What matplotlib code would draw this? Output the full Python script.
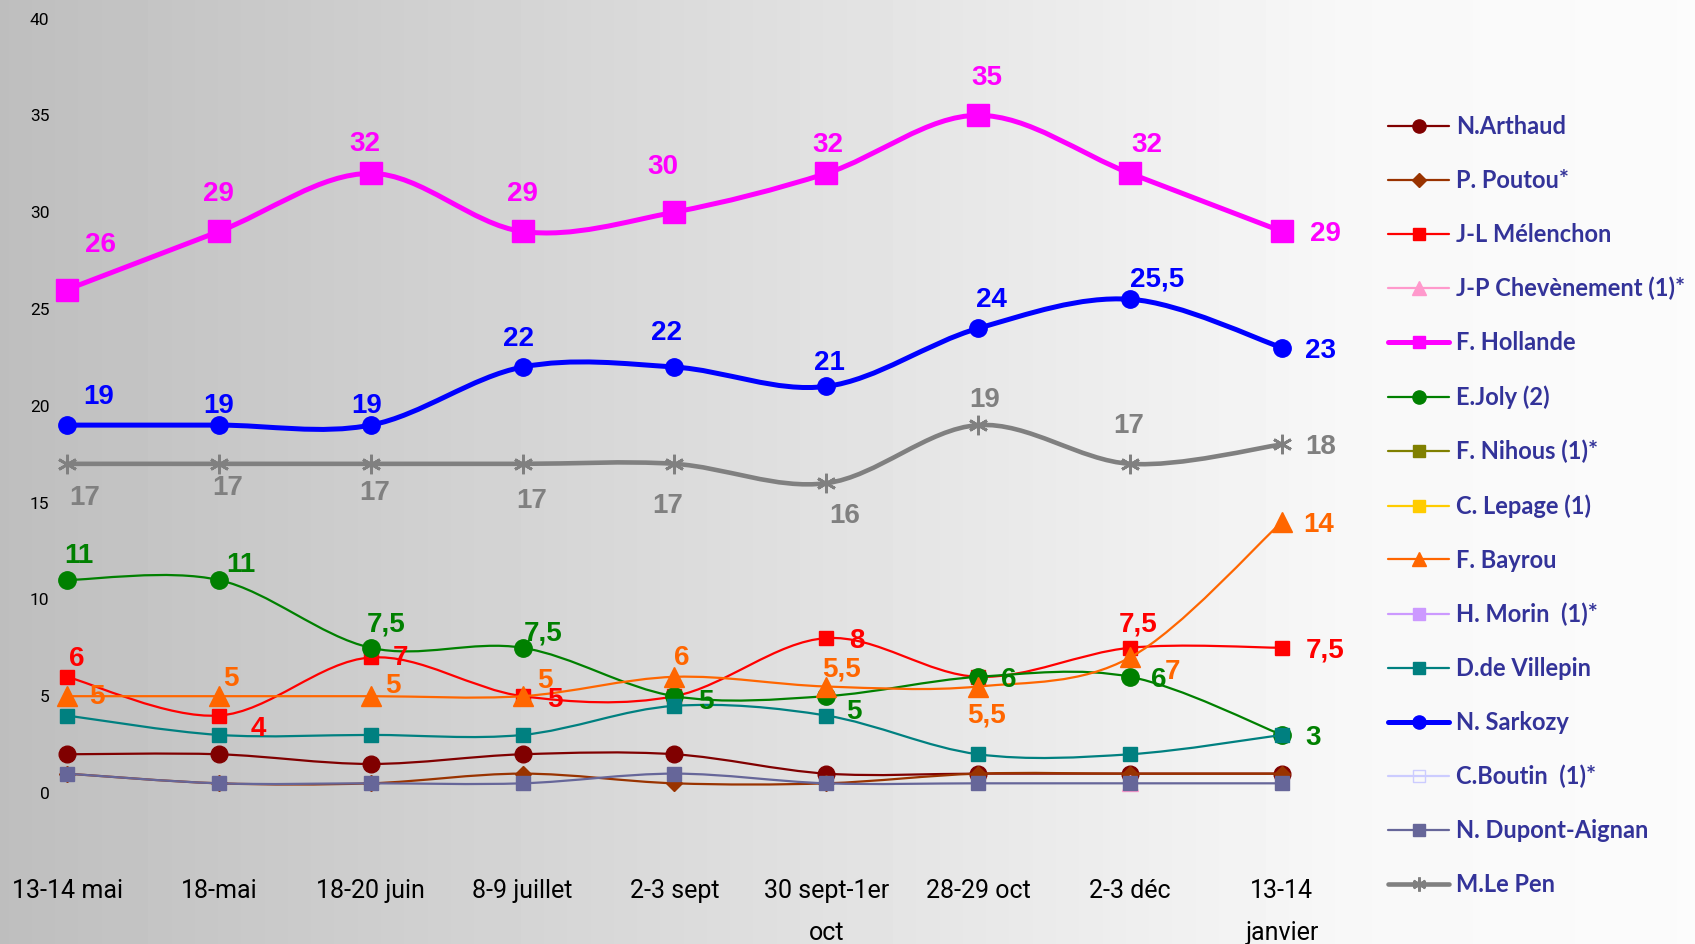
import numpy as np
import matplotlib
matplotlib.use("Agg")
import matplotlib.pyplot as plt
from matplotlib.path import Path
from matplotlib.patches import PathPatch
from matplotlib.lines import Line2D

# ---------------- data ----------------
categories = ['13-14 mai', '18-mai', '18-20 juin', '8-9 juillet', '2-3 sept',
              '30 sept-1er\noct', '28-29 oct', '2-3 déc', '13-14\njanvier']
y_ticks = [0, 5, 10, 15, 20, 25, 30, 35, 40]
nan = np.nan

arthaud = [2, 2, 1.5, 2, 2, 1, 1, 1, 1]
poutou = [1, 0.5, 0.5, 1, 0.5, 0.5, 1, 1, 1]
melenchon = [6, 4, 7, 5, 5, 8, 6, 7.5, 7.5]
chevenement = [nan, nan, nan, nan, nan, nan, nan, 0.5, nan]
hollande = [26, 29, 32, 29, 30, 32, 35, 32, 29]
joly = [11, 11, 7.5, 7.5, 5, 5, 6, 6, 3]
nihous = [nan] * 9
lepage = [nan] * 9
bayrou = [5, 5, 5, 5, 6, 5.5, 5.5, 7, 14]
morin = [nan] * 9
villepin = [4, 3, 3, 3, 4.5, 4, 2, 2, 3]
sarkozy = [19, 19, 19, 22, 22, 21, 24, 25.5, 23]
boutin = [nan] * 9
dupont = [1, 0.5, 0.5, 0.5, 1, 0.5, 0.5, 0.5, 0.5]
lepen = [17, 17, 17, 17, 17, 16, 19, 17, 18]

names = ['N.Arthaud', 'P. Poutou*', 'J-L Mélenchon', 'J-P Chevènement (1)*',
         'F. Hollande', 'E.Joly (2)', 'F. Nihous (1)*', 'C. Lepage (1)',
         'F. Bayrou', 'H. Morin  (1)*', 'D.de Villepin', 'N. Sarkozy',
         'C.Boutin  (1)*', 'N. Dupont-Aignan', 'M.Le Pen']
values = [arthaud, poutou, melenchon, chevenement, hollande, joly, nihous, lepage,
          bayrou, morin, villepin, sarkozy, boutin, dupont, lepen]

# ---------------- styles ----------------
# (color, linewidth, marker, markersize, legend markersize, facecolor)
styles = {
    'N.Arthaud': ('#800000', 1.6, 'o', 12, 9.5, None),
    'P. Poutou*': ('#993300', 1.6, 'D', 8, 7, None),
    'J-L Mélenchon': ('#FF0000', 1.6, 's', 9.5, 9, None),
    'J-P Chevènement (1)*': ('#FF99CC', 1.6, '^', 11, 10, None),
    'F. Hollande': ('#FF00FF', 3.6, 's', 16, 9, None),
    'E.Joly (2)': ('#008000', 1.6, 'o', 12.5, 9.5, None),
    'F. Nihous (1)*': ('#808000', 1.6, 's', 9, 9, None),
    'C. Lepage (1)': ('#FFCC00', 1.6, 's', 9, 9, None),
    'F. Bayrou': ('#FF6600', 1.6, '^', 14, 10, None),
    'H. Morin  (1)*': ('#CC99FF', 1.6, 's', 9, 9, None),
    'D.de Villepin': ('#008080', 1.6, 's', 9.5, 9, None),
    'N. Sarkozy': ('#0000FF', 3.6, 'o', 12.5, 9.5, None),
    'C.Boutin  (1)*': ('#CCCCFF', 1.6, 's', 9, 8, 'none'),
    'N. Dupont-Aignan': ('#666699', 1.6, 's', 10, 9, None),
    'M.Le Pen': ('#808080', 3.3, (6, 2, 0), 14, 10, None),
}

# data-label offsets in pixels (dx right, dy down); None = no label
label_offsets = {
    'F. Hollande': [(34, -48), (0, -40), (-6, -32), (0, -40), (-12, -48), (1, -31), (9, -40), (17, -31), (43, 0)],
    'N. Sarkozy': [(32, -31), (0, -22), (-4, -22), (-4, -31), (-8, -37), (3, -26), (13, -31), (27, -23), (39, 0)],
    'M.Le Pen': [(18, 31), (9, 21), (4, 26), (9, 34), (-7, 39), (18, 30), (6, -28), (-1, -41), (39, 0)],
    'E.Joly (2)': [(12, -27), (22, -18), (15, -26), (21, -17), (31, 3), (28, 13), (31, 0), (29, 0), (31, 0)],
    'J-L Mélenchon': [(10, -21), (39, 10), (30, -2), (32, 1), None, (31, 0), None, (8, -26), (43, 0)],
    'F. Bayrou': [(30, -2), (12, -20), (22, -13), (22, -18), (7, -22), (15, -20), (8, 26), (42, 12), (37, 0)],
}


def smooth_path(xs, ys):
    pts = np.column_stack([xs, ys]).astype(float)
    n = len(pts)
    verts = [pts[0]]
    codes = [Path.MOVETO]
    for i in range(n - 1):
        p0 = pts[max(i - 1, 0)]
        p1 = pts[i]
        p2 = pts[i + 1]
        p3 = pts[min(i + 2, n - 1)]
        c1 = p1 + (p2 - p0) / 6.0
        c2 = p2 - (p3 - p1) / 6.0
        verts += [c1, c2, p2]
        codes += [Path.CURVE4] * 3
    return Path(verts, codes)


W, H = 1695, 944
fig = plt.figure(figsize=(W / 100, H / 100), dpi=100)

# background gradient
bg = fig.add_axes([0, 0, 1, 1], zorder=-10)
xs_bg = np.linspace(0, 1, 400)
grad = np.interp(xs_bg, [0, 0.8, 1.0], [0.745, 0.972, 0.985])
bg.imshow(np.tile(grad, (2, 1)), aspect='auto', cmap='gray', vmin=0, vmax=1,
          extent=[0, 1, 0, 1], interpolation='bilinear')
bg.set_axis_off()

ax_left, ax_right = 55, 1370
ax_top, ax_bottom = 2, 860
ax = fig.add_axes([ax_left / W, (H - ax_bottom) / H, (ax_right - ax_left) / W,
                   (ax_bottom - ax_top) / H])
ax.set_facecolor('none')
px_unit_x = (1282 - 67) / 8
px_unit_y = (793 - 18.5) / 40
ax.set_xlim((ax_left - 67) / px_unit_x, 8 + (ax_right - 1282) / px_unit_x)
ax.set_ylim(-(ax_bottom - 793) / px_unit_y, 40 + (18.5 - ax_top) / px_unit_y)
for s in ax.spines.values():
    s.set_visible(False)

x = np.arange(len(categories))
handles = []
for k, (name, vals) in enumerate(zip(names, values)):
    color, lw, mk, ms, lms, fc = styles[name]
    v = np.array(vals, dtype=float)
    z = 2 + k
    mfc = color if fc is None else fc
    mew = 2.0 if mk == (6, 2, 0) else 1.0
    ok = ~np.isnan(v)
    idx = np.where(ok)[0]
    if len(idx) > 0:
        runs = np.split(idx, np.where(np.diff(idx) != 1)[0] + 1)
        for r in runs:
            if len(r) > 1:
                p = smooth_path(x[r], v[r])
                ax.add_patch(PathPatch(p, fill=False, edgecolor=color, lw=lw,
                                       capstyle='round', joinstyle='round', zorder=z))
        ax.plot(x[ok], v[ok], linestyle='none', marker=mk, markersize=ms,
                markerfacecolor=mfc, markeredgecolor=color, markeredgewidth=mew, zorder=z + 0.5)
    handles.append(Line2D([], [], color=color, lw=lw, marker=mk, markersize=lms,
                          markerfacecolor=mfc, markeredgecolor=color,
                          markeredgewidth=mew, solid_capstyle='round'))
    if name in label_offsets:
        for i, off in enumerate(label_offsets[name]):
            if off is None or np.isnan(v[i]):
                continue
            txt = ('%g' % v[i]).replace('.', ',')
            ax.annotate(txt, (x[i], v[i]), xytext=(off[0], -off[1]),
                        textcoords='offset pixels', ha='center', va='center_baseline',
                        fontsize=20, fontweight='bold', family='Liberation Sans',
                        color=color, zorder=50, annotation_clip=False)

ax.set_xticks(x, categories)
ax.set_yticks(y_ticks, [str(t) for t in y_ticks])
ax.tick_params(axis='x', length=0, pad=14, labelsize=18, labelcolor='black')
ax.tick_params(axis='y', length=0, pad=4, labelsize=12.5, labelcolor='black')
for lab in ax.get_xticklabels():
    lab.set_family('Roboto')
    lab.set_linespacing(1.95)
for lab in ax.get_yticklabels():
    lab.set_family('Roboto')

leg = fig.legend(handles, names, loc='upper left',
                 bbox_to_anchor=(1388 / W, (H - 115) / H), frameon=False,
                 borderpad=0, borderaxespad=0, handlelength=2.6, handletextpad=0.3,
                 labelspacing=1.31,
                 prop={'family': 'Lato', 'weight': 'bold', 'size': 17})
for t in leg.get_texts():
    t.set_color('#333399')

fig.savefig('out.png', dpi=100)
